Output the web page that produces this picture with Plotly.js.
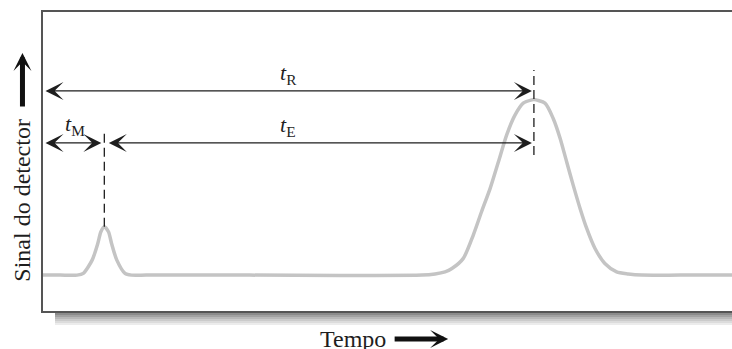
<!DOCTYPE html>
<html>
<head>
<meta charset="utf-8">
<script src="https://cdn.plot.ly/plotly-3.0.1.min.js"></script>
<style>
  html, body { margin: 0; padding: 0; background: #fff; }
  #chart { width: 732px; height: 349px; }
</style>
</head>
<body>
<div id="chart"></div>
<script>
/****************************************************
 * Chromatogram: detector signal vs time
 ****************************************************/

// Trace (time, signal above baseline)
const curveTime = [0, 0.5, 0.99, 1.17, 1.43, 1.59, 1.68, 1.78, 1.90, 1.99, 2.14, 2.38, 2.57, 3.0,
  6.0, 11.0, 11.38, 11.67, 11.87, 12.20, 12.49, 12.73, 12.98, 13.22, 13.46, 13.70, 13.94, 14.19, 14.25,
  14.57, 14.81, 15.01, 15.20, 15.39, 15.59, 15.78, 16.02, 16.31, 16.65, 16.99, 17.38, 18.5, 20];
const curveSignal = [0, 0, 0, 0.06, 0.51, 1.06, 1.45, 1.62, 1.45, 1.06, 0.51, 0.06, 0, 0,
  0, 0, 0.04, 0.11, 0.22, 0.56, 1.34, 2.12, 2.90, 3.79, 4.69, 5.35, 5.75, 5.86, 5.87,
  5.75, 5.24, 4.58, 3.79, 3.01, 2.23, 1.57, 0.90, 0.39, 0.11, 0.04, 0, 0, 0];

// Dead time (tM) and retention time (tR)
const peakTimes = [1.78, 14.25];
const peakHeights = [1.62, 5.87];
const labels = ["<i>t</i><sub>M</sub>", "<i>t</i><sub>R</sub>", "<i>t</i><sub>E</sub>"];
const axisTitles = ["Tempo", "Sinal do detector"];

const tM = peakTimes[0];
const tR = peakTimes[1];

// Levels of the dimension arrows
const yTop = 6.16;
const yLow = 4.42;

const FONT = "Liberation Serif";
const INK = "#1e1e1e";

const traceCurve = {
  x: curveTime,
  y: curveSignal,
  mode: "lines",
  line: { color: "#c4c4c4", width: 3.5, shape: "spline", smoothing: 0.7 },
  hoverinfo: "skip"
};

const traceDashM = {
  x: [tM, tM],
  y: [peakHeights[0], 4.73],
  mode: "lines",
  line: { color: INK, width: 1.3, dash: "9px,5px" },
  hoverinfo: "skip"
};

const traceDashR = {
  x: [tR, tR],
  y: [4.02, 6.86],
  mode: "lines",
  line: { color: INK, width: 1.3, dash: "9px,5px" },
  hoverinfo: "skip"
};

// Double headed dimension arrow between two times
function dimArrow(x0, x1, y, s0, s1) {
  return {
    x: x1, y: y, ax: x0, ay: y,
    xref: "x", yref: "y", axref: "x", ayref: "y",
    text: "", showarrow: true,
    arrowside: "end+start",
    arrowhead: 3, startarrowhead: 3,
    arrowsize: 2.4, startarrowsize: 2.4,
    arrowwidth: 1.25, arrowcolor: INK,
    standoff: s1, startstandoff: s0
  };
}

function label(text, x, y) {
  return {
    x: x, y: y, xref: "x", yref: "y",
    text: text, showarrow: false,
    font: { family: FONT, size: 22, color: INK }
  };
}

const annotations = [
  dimArrow(0, tR, yTop, 1, 2),
  dimArrow(0, tM, yLow, 1, 3),
  dimArrow(tM, tR, yLow, 3, 2),
  label(labels[1], tR / 2, 6.73),
  label(labels[0], tM / 2 + 0.05, 5.02),
  label(labels[2], tR / 2, 4.99),
  // axis titles
  {
    x: 0.45, y: -0.045, xref: "paper", yref: "paper",
    xanchor: "center", yanchor: "top",
    text: axisTitles[0], showarrow: false,
    font: { family: FONT, size: 24, color: INK }
  },
  {
    x: -0.03, y: 0.37, xref: "paper", yref: "paper",
    xanchor: "center", yanchor: "middle", textangle: -90,
    text: axisTitles[1], showarrow: false,
    font: { family: FONT, size: 24, color: INK }
  },
  // thick direction arrows next to the titles
  {
    x: 0.588, y: -0.094, xref: "paper", yref: "paper",
    ax: -55, ay: 0, text: "", showarrow: true,
    arrowhead: 3, arrowsize: 0.6, arrowwidth: 5, arrowcolor: "#111"
  },
  {
    x: -0.0298, y: 0.863, xref: "paper", yref: "paper",
    ax: 0, ay: 55, text: "", showarrow: true,
    arrowhead: 3, arrowsize: 0.6, arrowwidth: 5, arrowcolor: "#111"
  }
];

// Soft shadow under the bottom frame line
const shadowGrays = ["#8c8c8c", "#a2a2a2", "#b8b8b8", "#cbcbcb", "#dcdcdc", "#ececec"];
const shapes = shadowGrays.map((c, i) => ({
  type: "rect", xref: "paper", yref: "paper",
  x0: 12 / 689, x1: 1,
  y0: -(2 + 2 * i) / 299, y1: -(4 + 2 * i) / 299,
  fillcolor: c, line: { width: 0 }, layer: "below"
}));

const layout = {
  width: 732,
  height: 349,
  margin: { l: 43, r: 0, t: 12, b: 38 },
  paper_bgcolor: "#fff",
  plot_bgcolor: "#fff",
  showlegend: false,
  xaxis: {
    range: [0, 20],
    showgrid: false, zeroline: false, showticklabels: false, ticks: "",
    showline: true, mirror: true, linecolor: "#555", linewidth: 2
  },
  yaxis: {
    range: [-1.2, 8.8],
    showgrid: false, zeroline: false, showticklabels: false, ticks: "",
    showline: true, linecolor: "#555", linewidth: 2
  },
  annotations: annotations,
  shapes: shapes
};

Plotly.newPlot("chart", [traceCurve, traceDashM, traceDashR], layout, { displayModeBar: false, staticPlot: true });
</script>
</body>
</html>
